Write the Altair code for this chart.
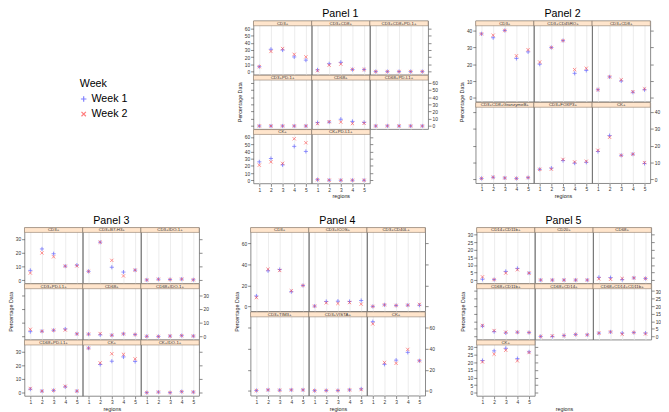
import altair as alt
import pandas as pd

REGIONS = [1, 2, 3, 4, 5]
WEEKS = ["Week 1", "Week 2"]
COLORS = ["#4a4aff", "#ff4444"]
PLUS = "M-1,0L1,0M0,-1L0,1"
XMARK = "M-0.8,-0.8L0.8,0.8M-0.8,0.8L0.8,-0.8"

# ---------------- Panel 1 ----------------
p1_markers = ["CD3+", "CD3+CD8+", "CD3+CD8+PD-1+", "CD3+PD-1+", "CD68+",
              "CD68+PD-L1+", "CK+", "CK+PD-L1+"]
p1_week1 = [
    [7, 31, 30, 20.4, 16],
    [2.5, 11, 13, 3, 3],
    [0.2, 0.2, 0.2, 0.2, 0.2],
    [0.1, 0.1, 0.1, 0.1, 0.1],
    [4.7, 5.5, 9.4, 6.4, 5],
    [0.1, 0.2, 0.1, 0.1, 0.1],
    [25.6, 30.2, 21.4, 47, 40],
    [1, 0.3, 0.2, 0.2, 0.2],
]
p1_week2 = [
    [7, 28, 32, 24, 20.5],
    [1.5, 9, 10.5, 3.2, 3],
    [0.2, 0.2, 0.2, 0.2, 0.2],
    [0.1, 0.1, 0.1, 0.1, 0.1],
    [3.4, 6, 5.5, 3.4, 3.8],
    [0.1, 0.2, 0.1, 0.1, 0.1],
    [21, 25.6, 23.5, 57.5, 52],
    [1, 0.3, 0.2, 0.2, 0.2],
]
p1_ticks = [0, 10, 20, 30, 40, 50, 60]
p1_range = [-4.2, 63.5]

# ---------------- Panel 2 ----------------
p2_markers = ["CD3+", "CD3+CD45RO+", "CD3+CD8+", "CD3+CD8+GranzymeB+",
              "CD3+FOXP3+", "CK+"]
p2_week1 = [
    [38, 35.7, 40, 23.4, 27.3],
    [20, 29.9, 34, 14.6, 16.3],
    [4.9, 12.5, 10.1, 3.4, 4.9],
    [0.6, 1.3, 0.9, 0.6, 1.1],
    [6, 6.7, 11.2, 9.7, 10.2],
    [16.6, 26, 14.3, 15, 9.5],
]
p2_week2 = [
    [38, 37.2, 40, 25, 28.6],
    [21.3, 29.9, 34, 16.8, 17.6],
    [4.9, 12.5, 10.8, 3.7, 5.4],
    [0.6, 1.3, 0.9, 0.6, 1.1],
    [6, 6.1, 11.9, 10.4, 10.8],
    [17.3, 25, 14.3, 15, 10],
]
p2_ticks = [0, 10, 20, 30, 40]
p2_range = [-2.2, 42.8]

# ---------------- Panel 3 ----------------
p3_markers = ["CD3+", "CD3+B7-H3+", "CD3+IDO-1+", "CD3+PD-L1+", "CD68+",
              "CD68+IDO-1+", "CD68+PD-L1+", "CK+", "CK+IDO-1+"]
p3_week1 = [
    [7.1, 22.7, 19.2, 10.2, 10.9],
    [6.4, 27.6, 9.4, 5.9, 7.3],
    [0.2, 0.7, 0.5, 0.8, 0.3],
    [3.5, 3.8, 4.5, 5.4, 1.9],
    [1.7, 1.2, 0.9, 1.9, 1.4],
    [0.1, 0, 0.3, 0.6, 0.3],
    [2.6, 1.2, 1.7, 4.3, 1.2],
    [32.4, 20.5, 22.9, 26, 22.7],
    [0.1, 0.5, 0.1, 0.8, 0.5],
]
p3_week2 = [
    [5.2, 19.8, 17, 10.2, 10.4],
    [6.4, 27.6, 14.4, 3.1, 7.3],
    [0.2, 0.7, 0.5, 0.8, 0.3],
    [5.2, 3.8, 4.5, 4.7, 1.9],
    [1.7, 2.1, 0.9, 1.9, 1.4],
    [0.1, 0, 0.3, 0.6, 0.3],
    [3.1, 1.2, 1.7, 4.7, 1.2],
    [32.4, 21.7, 28.3, 27.9, 24.6],
    [0.1, 0.5, 0.1, 0.8, 0.5],
]
p3_ticks = [0, 10, 20, 30]
p3_range = [-2.3, 34.7]

# ---------------- Panel 4 ----------------
p4_markers = ["CD3+", "CD3+ICOS+", "CD3+CD40L+", "CD3+TIM3+", "CD3+VISTA+", "CK+"]
p4_week1 = [
    [9.9, 33.9, 35.1, 14, 19.9],
    [0.3, 4.7, 5, 4.7, 5.6],
    [0, 1.5, 0.9, 1.2, 1.2],
    [0.3, 0.9, 0.6, 0.9, 0.9],
    [0.2, 0.3, 0.3, 0.9, 1.8],
    [65.8, 25.2, 29.2, 36.6, 28.6],
]
p4_week2 = [
    [8.4, 35.4, 34.2, 14.9, 19.9],
    [0.3, 3.4, 2.8, 3.7, 2.2],
    [0, 1.5, 0.9, 1.2, 1.9],
    [0.3, 0.9, 0.6, 0.9, 0.9],
    [0.2, 0.3, 0.3, 0.9, 1.2],
    [63.7, 27, 26.2, 39.4, 28.6],
]
p4_ticks = [0, 20, 40, 60]
p4_range = [-4.6, 70.4]

# ---------------- Panel 5 ----------------
p5_markers = ["CD14+CD11b+", "CD20+", "CD68+", "CD68+CD11b+", "CD68+CD14+",
              "CD68+CD14+CD11b+", "CK+"]
p5_week1 = [
    [0.6, 0.4, 5.8, 7.8, 4.7],
    [0.1, 0.1, 0.1, 0.1, 0.1],
    [1.9, 1.7, 0.4, 1.5, 1.1],
    [6.9, 3.2, 2.4, 2.8, 2.6],
    [0, 0, 0.6, 1.3, 1.1],
    [2.2, 3.0, 2.2, 2.6, 2.2],
    [21.3, 27.7, 29.4, 22.6, 27],
]
p5_week2 = [
    [2.2, 0.4, 4.7, 6.9, 4.7],
    [0.1, 0.1, 0.1, 0.1, 0.1],
    [0.9, 0.6, 1.1, 1.5, 1.1],
    [7.3, 3.9, 2.8, 2.8, 2.6],
    [0, 0.4, 0.6, 1.3, 1.1],
    [2.2, 3.0, 1.5, 2.6, 1.7],
    [20.4, 25.5, 28.1, 21.1, 26.6],
]
p5_ticks = [0, 5, 10, 15, 20, 25, 30]
p5_range = [-2.1, 31.6]

# ---------------- styling ----------------
W = 60          # cell width
SH = 5          # strip height
STRIP_FILL = "#ffe5cc"
STRIP_STROKE = "#8c7b6b"
BORDER = "#6a6a6a"

shape_scale = alt.Scale(domain=WEEKS, range=[PLUS, XMARK])
color_scale = alt.Scale(domain=WEEKS, range=COLORS)


def y_axis(orient, ticks, labels, extra=None):
    kw = dict(orient=orient, values=ticks, labels=labels, ticks=True, grid=False)
    if extra:
        kw.update(extra)
    return alt.Axis(**kw)


def make_cell(label, w1, w2, r, c, nrows, last_c, rowh, rng, ticks, panel_h):
    df = pd.DataFrame({
        "region": REGIONS * 2,
        "value": list(w1) + list(w2),
        "week": [WEEKS[0]] * 5 + [WEEKS[1]] * 5,
    })
    lo, hi = rng
    top = hi + (hi - lo) * SH / (rowh - SH)
    yscale = alt.Scale(domain=[lo, top], nice=False, zero=False)
    xscale = alt.Scale(domain=[0.5, 5.5], nice=False, zero=False)
    is_bottom = (r == nrows - 1)

    xkw = dict(values=REGIONS, grid=True, labels=is_bottom, ticks=is_bottom)
    if is_bottom and c == 0:
        xkw.update(title="regions", titleX=1.5 * W)
    else:
        xkw.update(title=None)
    xenc = alt.X("region:Q", scale=xscale, axis=alt.Axis(**xkw))

    if c == 0:
        if r == 0:
            extra = dict(title="Percentage Data", titleY=panel_h / 2)
        else:
            extra = dict(title=None)
        left = y_axis("left", ticks, r % 2 == 0, extra)
        yenc = alt.Y("value:Q", scale=yscale, axis=left)
    else:
        yenc = alt.Y("value:Q", scale=yscale, axis=None)

    pts = alt.Chart(df).mark_point(filled=False, size=18, strokeWidth=0.8, opacity=0.75).encode(
        x=xenc,
        y=yenc,
        shape=alt.Shape("week:N", scale=shape_scale, legend=None),
        color=alt.Color("week:N", scale=color_scale, legend=None),
    )
    layers = [pts]
    has_right = (c == last_c)
    if has_right:
        right = y_axis("right", ticks, r % 2 == 1, dict(title=None))
        ra = alt.Chart(df).mark_point(opacity=0).encode(
            x=xenc,
            y=alt.Y("value:Q", scale=yscale, axis=right),
        )
        layers.append(ra)

    sdf = pd.DataFrame({"label": [label]})
    strip = alt.Chart(sdf).mark_rect(fill=STRIP_FILL, stroke=STRIP_STROKE, strokeWidth=0.6).encode(
        x=alt.value(0), x2=alt.value(W), y=alt.value(0), y2=alt.value(SH)
    )
    stext = alt.Chart(sdf).mark_text(fontSize=4.5, baseline="middle", color="#333333").encode(
        text="label:N", x=alt.value(W / 2), y=alt.value(SH / 2 + 0.3)
    )
    layers += [strip, stext]
    ch = alt.layer(*layers).properties(
        width=W, height=rowh,
        view=alt.ViewBackground(stroke=BORDER, strokeWidth=0.8),
    )
    if has_right:
        ch = ch.resolve_axis(y="independent")
    return ch


def make_panel(name, markers, w1s, w2s, rng, ticks, nrows, rowh):
    panel_h = nrows * rowh
    cells = []
    for r in range(nrows):
        idx = list(range(r * 3, min(r * 3 + 3, len(markers))))
        last_c = len(idx) - 1
        for c, i in enumerate(idx):
            cells.append(make_cell(markers[i], w1s[i], w2s[i], r, c, nrows, last_c,
                                   rowh, rng, ticks, panel_h))
    return alt.concat(*cells, columns=3, spacing=0, bounds="flush",
                      title=alt.TitleParams(name, fontSize=11, offset=1, dx=3,
                                            anchor="middle", fontWeight="normal"))


# row heights: top panels / bottom panels
T3, T2 = 55.5, 83.25
B3, B2 = 57.5, 86.25

panel1 = make_panel("Panel 1", p1_markers, p1_week1, p1_week2, p1_range, p1_ticks, 3, T3)
panel2 = make_panel("Panel 2", p2_markers, p2_week1, p2_week2, p2_range, p2_ticks, 2, T2)
panel3 = make_panel("Panel 3", p3_markers, p3_week1, p3_week2, p3_range, p3_ticks, 3, B3)
panel4 = make_panel("Panel 4", p4_markers, p4_week1, p4_week2, p4_range, p4_ticks, 2, B2)
panel5 = make_panel("Panel 5", p5_markers, p5_week1, p5_week2, p5_range, p5_ticks, 3, B3)

# ---------------- legend ----------------
legend_title = pd.DataFrame({"t": ["Week"]})
legend_items = pd.DataFrame({"week": WEEKS})
lys = alt.Scale(type="point", domain=["Week"] + WEEKS, range=[65, 96], padding=0)
lg_title = alt.Chart(legend_title).mark_text(align="left", baseline="middle", fontSize=11,
                                             color="#000000").encode(
    x=alt.value(57), y=alt.Y("t:N", scale=lys, axis=None), text="t:N")
lg_sym = alt.Chart(legend_items).mark_point(filled=False, size=32, strokeWidth=1.2).encode(
    x=alt.value(61), y=alt.Y("week:N", scale=lys, axis=None),
    shape=alt.Shape("week:N", scale=shape_scale, legend=None),
    color=alt.Color("week:N", scale=color_scale, legend=None))
lg_txt = alt.Chart(legend_items).mark_text(align="left", baseline="middle", fontSize=11,
                                           color="#000000").encode(
    x=alt.value(69), y=alt.Y("week:N", scale=lys, axis=None), text="week:N")
legend = alt.layer(lg_title, lg_sym, lg_txt).properties(
    width=190, height=3 * T3, view=alt.ViewBackground(stroke="transparent"))

top_row = alt.hconcat(legend, alt.hconcat(panel1, panel2, spacing=22),
                      spacing=28)
bottom_row = alt.hconcat(panel3, alt.hconcat(panel4, panel5, spacing=26),
                         spacing=26)

chart = alt.vconcat(top_row, bottom_row, spacing=15).properties(
    padding={"top": -6, "left": 0, "right": 0, "bottom": 0}
).configure(
    font="Liberation Sans"
).configure_axis(
    labelFontSize=5, labelColor="#333333", tickColor="#555555", tickSize=3,
    tickWidth=0.7, labelPadding=1, titleFontSize=5.5, titleFontWeight="normal",
    titleColor="#222222", titlePadding=2, domain=False, gridColor="#e6e6e6",
    gridWidth=0.8,
).configure_title(
    font="Liberation Sans", color="#000000"
)

chart.save("out.html", embed_options={"renderer": "svg", "actions": False})
